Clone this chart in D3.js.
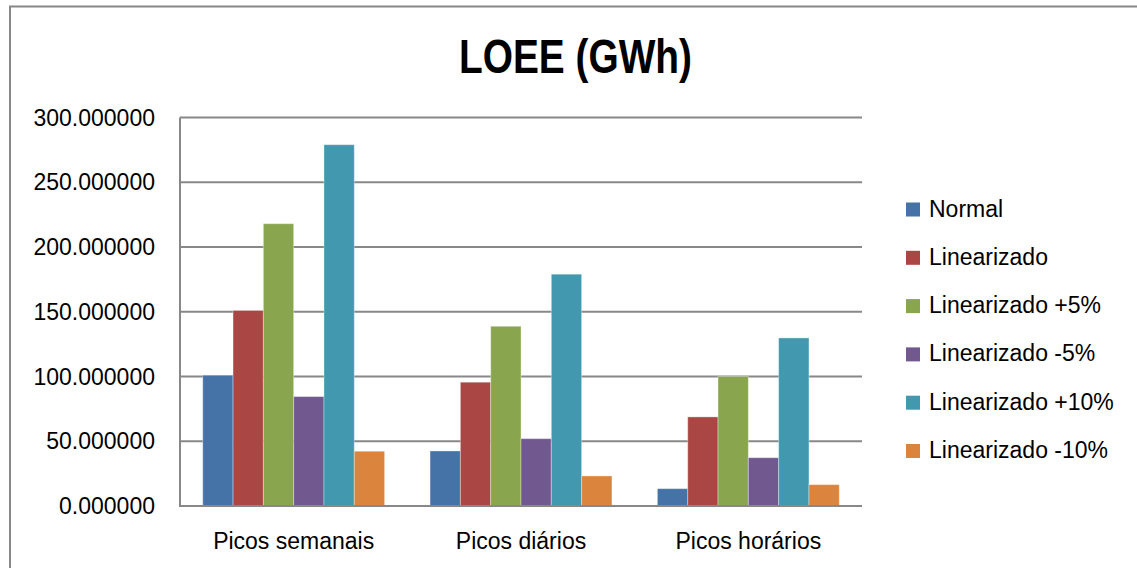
<!DOCTYPE html>
<html><head><meta charset="utf-8">
<script src="https://cdn.jsdelivr.net/npm/d3@7"></script>
<style>body{margin:0;background:#fff}svg{display:block;font-family:"Liberation Sans",Arial,sans-serif}</style>
</head><body><svg id="c" width="1137" height="568"></svg>
<script>
const categories = ["Picos semanais", "Picos diários", "Picos horários"];
const seriesNames = ["Normal", "Linearizado", "Linearizado +5%", "Linearizado -5%", "Linearizado +10%", "Linearizado -10%"];
const normal = [101, 42.5, 13.4];
const linearizado = [151, 95.6, 68.8];
const linP5 = [218, 138.8, 100];
const linM5 = [84.5, 52, 37.3];
const linP10 = [279, 179, 129.8];
const linM10 = [42.3, 23.2, 16.5];
const yTicks = [0, 50, 100, 150, 200, 250, 300];
const colors = ["#4572A7", "#AA4643", "#89A54E", "#71588F", "#4198AF", "#DB843D"];
const seriesValues = [normal, linearizado, linP5, linM5, linP10, linM10];

const svg = d3.select("#c");
const L = 180, R = 862, T = 117.5, B = 506;

// outer chart border
svg.append("rect").attr("x", 10).attr("y", 6.5).attr("width", 1300).attr("height", 700)
  .attr("fill", "none").attr("stroke", "#888").attr("stroke-width", 2);

// title
svg.append("text").attr("x", 575.5).attr("y", 72.7).attr("text-anchor", "middle")
  .attr("font-size", 49).attr("font-weight", "bold").attr("textLength", 233)
  .attr("lengthAdjust", "spacingAndGlyphs").text("LOEE (GWh)");

const y = d3.scaleLinear().domain([0, 300]).range([B, T]);
const x0 = d3.scaleBand().domain(categories).range([L, R]).padding(0);
const bw = x0.bandwidth();
const x1 = d3.scaleBand().domain(seriesNames).range([bw * 0.1, bw * 0.9]).padding(0);

// gridlines
svg.append("g").selectAll("line").data(yTicks).join("line")
  .attr("x1", L).attr("x2", R).attr("y1", d => y(d)).attr("y2", d => y(d))
  .attr("stroke", "#888").attr("stroke-width", 2);

// y labels
svg.append("g").selectAll("text").data(yTicks).join("text")
  .attr("x", 155).attr("y", d => y(d) + 8).attr("text-anchor", "end")
  .attr("font-size", 23).attr("fill", "#000").text(d => d.toFixed(6));

// bars
const g = svg.append("g");
categories.forEach((c, ci) => {
  seriesNames.forEach((s, si) => {
    const v = seriesValues[si][ci];
    g.append("rect")
      .attr("x", x0(c) + x1(s)).attr("width", x1.bandwidth())
      .attr("y", y(v)).attr("height", y(0) - y(v))
      .attr("fill", colors[si]).attr("stroke", "rgba(255,255,255,0.35)").attr("stroke-width", 1);
  });
});

// axes lines
svg.append("line").attr("x1", L).attr("x2", L).attr("y1", T).attr("y2", B)
  .attr("stroke", "#888").attr("stroke-width", 2);
svg.append("line").attr("x1", L - 1).attr("x2", R).attr("y1", B).attr("y2", B)
  .attr("stroke", "#888").attr("stroke-width", 2);

// category labels
svg.append("g").selectAll("text").data(categories).join("text")
  .attr("x", d => x0(d) + bw / 2).attr("y", 549).attr("text-anchor", "middle")
  .attr("font-size", 23).attr("fill", "#000").text(d => d);

// legend
const lg = svg.append("g");
seriesNames.forEach((s, i) => {
  const cy = 209.5 + i * 48.3;
  lg.append("rect").attr("x", 906).attr("y", cy - 7).attr("width", 14).attr("height", 14).attr("fill", colors[i]);
  lg.append("text").attr("x", 929).attr("y", cy + 7).attr("font-size", 23).attr("fill", "#000").text(s);
});
</script></body></html>
